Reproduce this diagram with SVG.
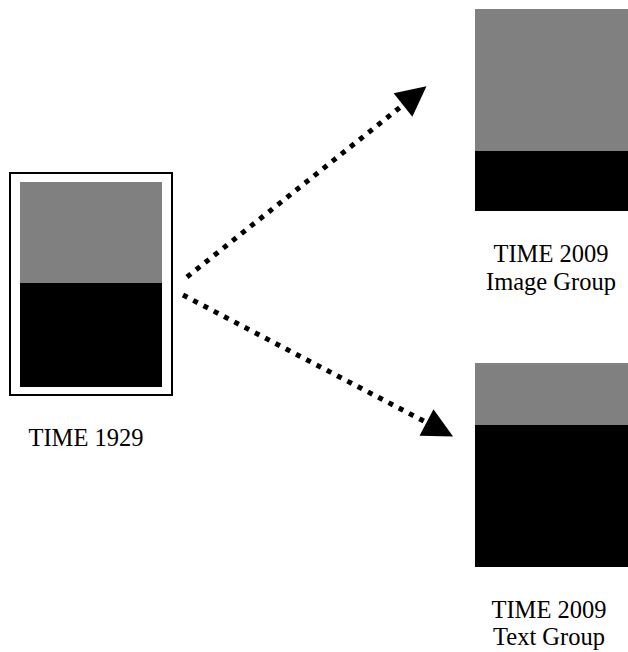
<svg xmlns="http://www.w3.org/2000/svg" width="628" height="652" viewBox="0 0 628 652">
  <style>
    .gray { fill: #808080; }
    .dark { fill: #000000; }
    .frame { fill: none; stroke: #000; stroke-width: 2; }
    .label { font-family: "Liberation Serif", "Times New Roman", serif; font-size: 24.5px; fill: #000; text-anchor: middle; }
    .link { fill: none; stroke: #000; stroke-width: 5; stroke-dasharray: 5 6.6; }
  </style>
  <defs>
    <marker id="head" markerUnits="userSpaceOnUse" markerWidth="30" markerHeight="30" refX="0" refY="15" orient="auto" overflow="visible">
      <path d="M0,0 L30,15 L0,30 Z" fill="#000"/>
    </marker>
  </defs>
  <rect width="628" height="652" fill="#fff"/>

  <!-- original cover, framed -->
  <g id="time1929">
    <rect class="frame" x="10" y="173" width="162" height="222"/>
    <rect class="gray" x="20" y="182" width="142" height="101"/>
    <rect class="dark" x="20" y="283" width="142" height="104"/>
    <text class="label" x="86" y="446">TIME 1929</text>
  </g>

  <!-- image group cover -->
  <g id="time2009-image">
    <rect class="gray" x="475" y="9" width="153" height="142"/>
    <rect class="dark" x="475" y="151" width="153" height="60"/>
    <text class="label" x="551" y="262">TIME 2009</text>
    <text class="label" x="551" y="290">Image Group</text>
  </g>

  <!-- text group cover -->
  <g id="time2009-text">
    <rect class="gray" x="475" y="363" width="153" height="62"/>
    <rect class="dark" x="475" y="425" width="153" height="142"/>
    <text class="label" x="549" y="618">TIME 2009</text>
    <text class="label" x="549" y="645">Text Group</text>
  </g>

  <!-- dotted connectors -->
  <g id="connectors">
    <line class="link" x1="187" y1="277" x2="403" y2="105" marker-end="url(#head)"/>
    <line class="link" x1="183" y1="295" x2="426.5" y2="422.5" marker-end="url(#head)"/>
  </g>
</svg>
